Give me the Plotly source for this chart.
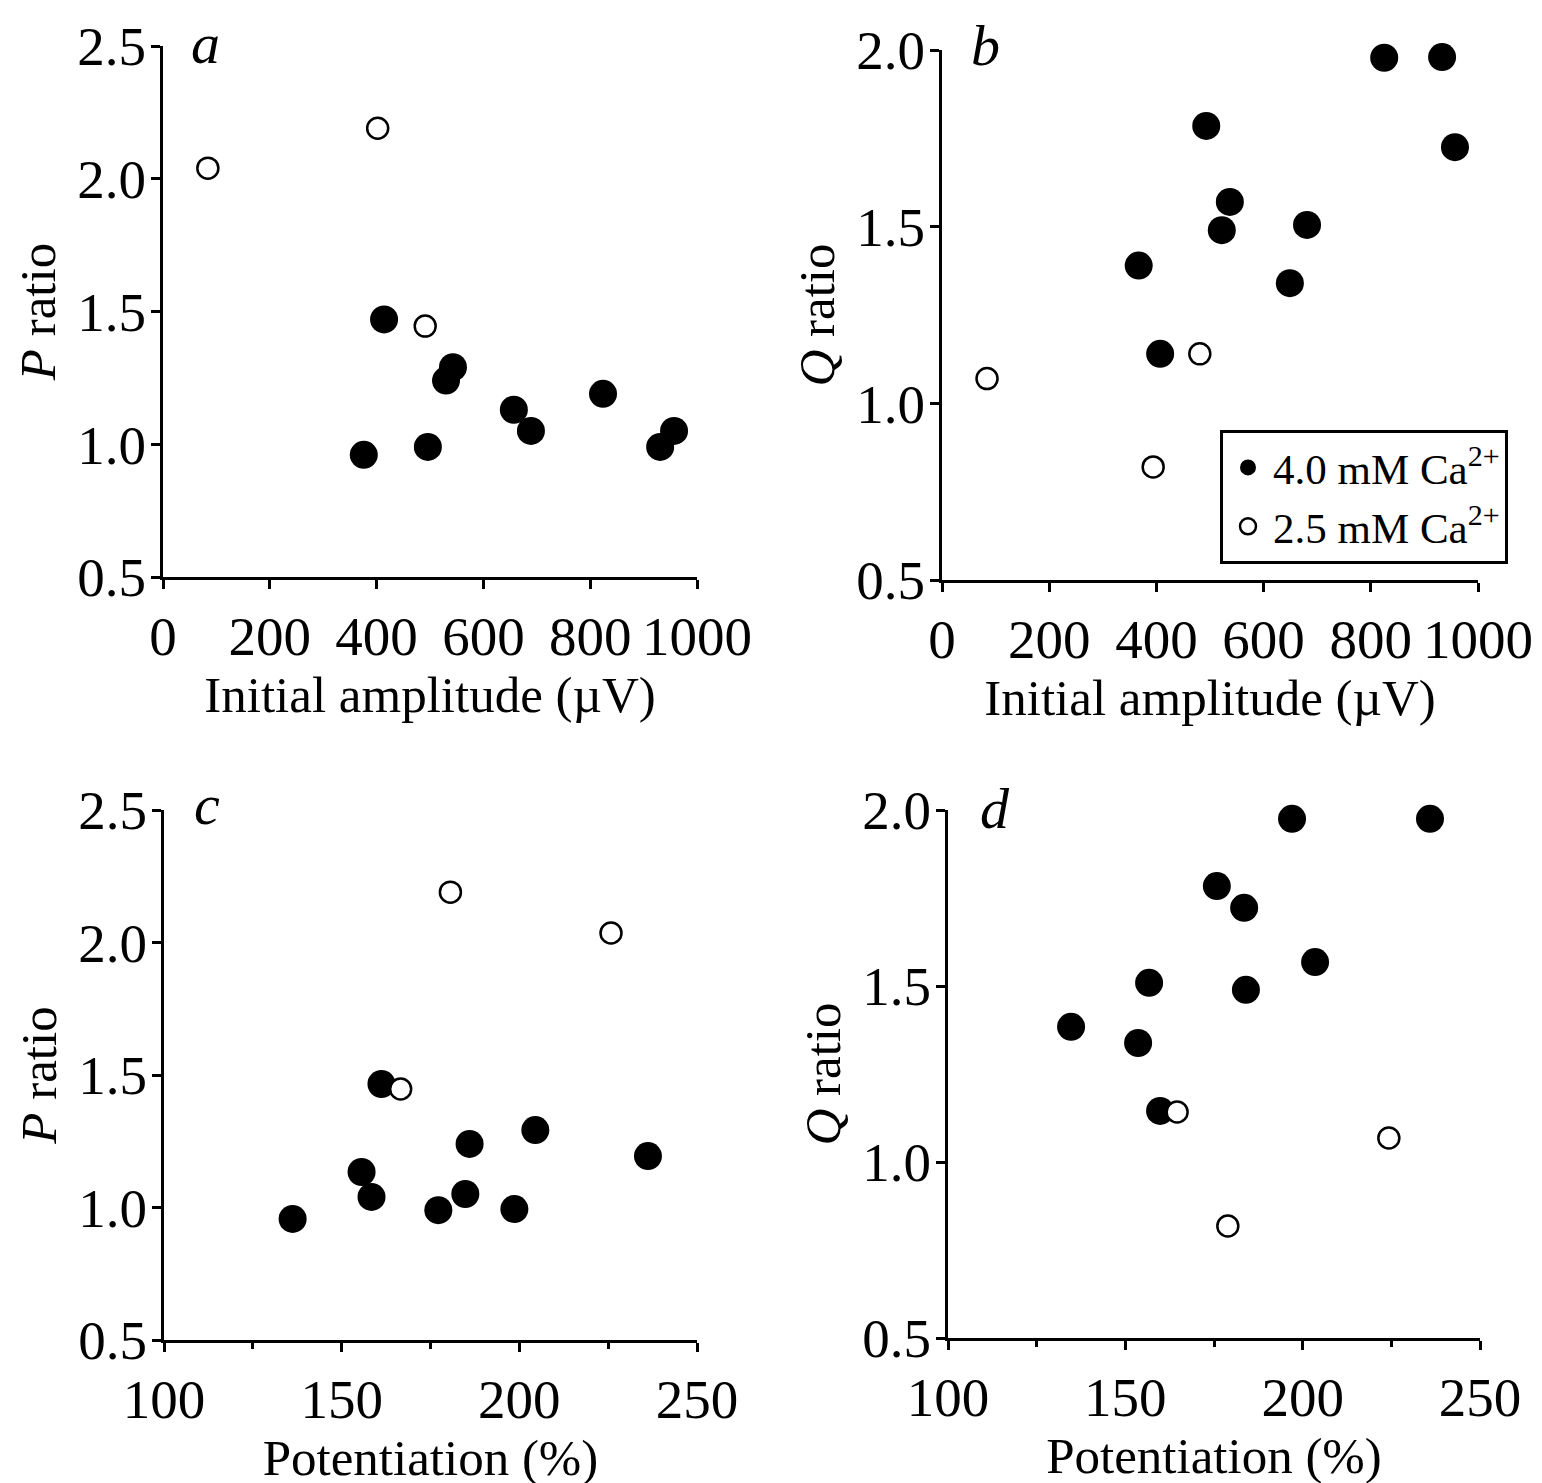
import plotly.graph_objects as go

FONT = "Liberation Serif, Times New Roman, serif"

# ---------------- data ----------------
# Panel a: P ratio vs initial amplitude (uV)
a_x_40 = [414, 543, 530, 376, 496, 657, 689, 824, 931, 957]
a_y_40 = [1.47, 1.29, 1.24, 0.96, 0.99, 1.13, 1.05, 1.19, 0.99, 1.05]
a_x_25 = [84, 402, 491]
a_y_25 = [2.04, 2.19, 1.445]

# Panel b: Q ratio vs initial amplitude (uV)
b_x_40 = [407, 537, 522, 367, 493, 649, 681, 825, 933, 957]
b_y_40 = [1.14, 1.57, 1.49, 1.39, 1.785, 1.34, 1.505, 1.978, 1.98, 1.725]
b_x_25 = [84, 481, 394]
b_y_25 = [1.07, 1.14, 0.82]

# Panel c: P ratio vs potentiation (%)
c_x_40 = [161.2, 136.2, 155.6, 158.4, 186.0, 184.8, 177.2, 198.6, 204.5, 236.2]
c_y_40 = [1.466, 0.957, 1.134, 1.04, 1.24, 1.051, 0.99, 0.994, 1.292, 1.194]
c_x_25 = [180.6, 225.8, 166.6]
c_y_25 = [2.19, 2.036, 1.447]

# Panel d: Q ratio vs potentiation (%)
d_x_40 = [197.0, 235.9, 175.8, 183.5, 156.7, 203.5, 184.0, 134.7, 153.6, 159.8]
d_y_40 = [1.975, 1.975, 1.784, 1.722, 1.509, 1.568, 1.489, 1.384, 1.338, 1.145]
d_x_25 = [164.6, 224.3, 178.9]
d_y_25 = [1.142, 1.068, 0.818]

series_names = ["4.0 mM Ca<sup>2+</sup>", "2.5 mM Ca<sup>2+</sup>"]
panel_letters = ["a", "b", "c", "d"]

# ---------------- figure ----------------
fig = go.Figure()

filled = dict(symbol="circle", size=28, color="black", line=dict(width=0))
hollow = dict(symbol="circle", size=21, color="white", line=dict(width=2.5, color="black"))

panels = [
    (a_x_40, a_y_40, a_x_25, a_y_25, "x", "y"),
    (b_x_40, b_y_40, b_x_25, b_y_25, "x2", "y2"),
    (c_x_40, c_y_40, c_x_25, c_y_25, "x3", "y3"),
    (d_x_40, d_y_40, d_x_25, d_y_25, "x4", "y4"),
]
for i, (x4, y4, x25, y25, xa, ya) in enumerate(panels):
    show = (i == 1)
    fig.add_trace(go.Scatter(x=x4, y=y4, mode="markers", marker=filled,
                             name=series_names[0], showlegend=show,
                             xaxis=xa, yaxis=ya, cliponaxis=False))
    fig.add_trace(go.Scatter(x=x25, y=y25, mode="markers", marker=hollow,
                             name=series_names[1], showlegend=show,
                             xaxis=xa, yaxis=ya, cliponaxis=False))

W, H = 1542, 1483
OFF = 8  # page body margin offset
def dx(p0, p1):
    return [(p0 - OFF) / W, (p1 - OFF) / W]
def dy(top, bottom):
    return [1 - (bottom - OFF) / H, 1 - (top - OFF) / H]

tickfont = dict(family=FONT, size=55, color="black")
titlefont = dict(family=FONT, size=51, color="black")
common = dict(showline=True, linewidth=3, linecolor="black", ticks="outside",
              ticklen=9, tickwidth=3, tickcolor="black", showgrid=False,
              zeroline=False, tickfont=tickfont, mirror=False, automargin=False)
ycommon = dict(common, ticklabelstandoff=-6)

amp_title = "Initial amplitude (\u00b5V)"
pot_title = "Potentiation (%)"
minor = dict(dtick=25, ticks="outside", ticklen=6, tickwidth=3, tickcolor="black")

fig.update_layout(
    width=W, height=H,
    margin=dict(l=0, r=0, t=0, b=0),
    paper_bgcolor="white", plot_bgcolor="white",
    font=dict(family=FONT, color="black"),
    xaxis=dict(domain=dx(163, 697), range=[0, 1000], dtick=200, anchor="y",
               title=dict(text=amp_title, font=titlefont, standoff=6), **common),
    yaxis=dict(domain=dy(46, 577), range=[0.5, 2.5], dtick=0.5, tickformat=".1f", anchor="x",
               title=dict(text="<i>P</i> ratio", font=titlefont, standoff=6), **ycommon),
    xaxis2=dict(domain=dx(942, 1478), range=[0, 1000], dtick=200, anchor="y2",
                title=dict(text=amp_title, font=titlefont, standoff=6), **common),
    yaxis2=dict(domain=dy(50, 580), range=[0.5, 2.0], dtick=0.5, tickformat=".1f", anchor="x2",
                title=dict(text="<i>Q</i> ratio", font=titlefont, standoff=6), **ycommon),
    xaxis3=dict(domain=dx(164, 697), range=[100, 250], dtick=50, anchor="y3", minor=minor,
                title=dict(text=pot_title, font=titlefont, standoff=6), **common),
    yaxis3=dict(domain=dy(810, 1340), range=[0.5, 2.5], dtick=0.5, tickformat=".1f", anchor="x3",
                title=dict(text="<i>P</i> ratio", font=titlefont, standoff=6), **ycommon),
    xaxis4=dict(domain=dx(948, 1480), range=[100, 250], dtick=50, anchor="y4", minor=minor,
                title=dict(text=pot_title, font=titlefont, standoff=6), **common),
    yaxis4=dict(domain=dy(810, 1338), range=[0.5, 2.0], dtick=0.5, tickformat=".1f", anchor="x4",
                title=dict(text="<i>Q</i> ratio", font=titlefont, standoff=6), **ycommon),
    legend=dict(x=(1220 - OFF) / W, y=1 - (430 - OFF) / H, xanchor="left", yanchor="top",
                bgcolor="white", bordercolor="black", borderwidth=3,
                font=dict(family=FONT, size=43, color="black"),
                itemsizing="trace", itemwidth=40),
    showlegend=True,
)

letter_pos = [(206, 43), (985, 45), (207, 805), (995, 808)]
for letter, (px, py) in zip(panel_letters, letter_pos):
    fig.add_annotation(x=(px - OFF) / W, y=1 - (py - OFF) / H, xref="paper", yref="paper",
                       text=f"<i>{letter}</i>", showarrow=False,
                       font=dict(family=FONT, size=58, color="black"),
                       xanchor="center", yanchor="middle")

fig.write_html("out.html")
